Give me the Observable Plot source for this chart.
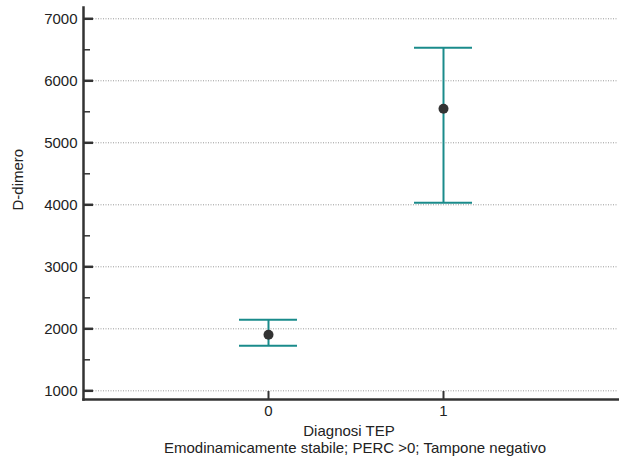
<!DOCTYPE html>
<html>
<head>
<meta charset="utf-8">
<script src="https://cdn.jsdelivr.net/npm/d3@7"></script>
<script src="https://cdn.jsdelivr.net/npm/@observablehq/plot@0.6"></script>
<style>
  html, body { margin: 0; padding: 0; background: #fff; }
  svg { display: block; }
</style>
</head>
<body>
<div id="chart"></div>
<script>
// Data
const categories = ["0", "1"];
const means = [1905, 5548];
const lower = [1726, 4032];
const upper = [2145, 6532];

const yMajor = [1000, 2000, 3000, 4000, 5000, 6000, 7000];
const yMinor = [1500, 2500, 3500, 4500, 5500, 6500];
const yDomain = [860, 7182];

const yLabel = "D-dimero";
const xLabel = "Diagnosi TEP";
const subLabel = "Emodinamicamente stabile; PERC >0; Tampone negativo";

const data = categories.map((c, i) => ({cat: c, mean: means[i], lo: lower[i], hi: upper[i]}));

const teal = "#1a8b8b";
const axisColor = "#333";
const font = "Liberation Sans, Arial, sans-serif";

const plot = Plot.plot({
  width: 619,
  height: 466,
  marginTop: 7,
  marginBottom: 67,
  marginLeft: 83,
  marginRight: 1,
  style: {fontFamily: font, fontSize: "15px", color: "#222", background: "#fff"},
  x: {type: "band", domain: categories, paddingInner: 0.669, paddingOuter: 0.863, align: 0.517, axis: null},
  y: {domain: yDomain, axis: null},
  marks: [
    Plot.ruleY(yMajor, {stroke: "#999", strokeDasharray: "1,1.5", strokeWidth: 1}),
    Plot.axisY({ticks: yMinor, tickSize: -7, tickFormat: () => "", stroke: axisColor, strokeWidth: 1.5}),
    Plot.axisY({ticks: yMajor, tickSize: -10, tickPadding: 16, tickFormat: d => String(d), stroke: axisColor, strokeWidth: 2.5, fill: "#222", label: null}),
    Plot.axisX({tickSize: -8, tickPadding: 14, stroke: axisColor, strokeWidth: 2, fill: "#222", label: null}),
    Plot.frame({anchor: "left", stroke: axisColor, strokeWidth: 2.5}),
    Plot.frame({anchor: "bottom", stroke: axisColor, strokeWidth: 2.5}),
    Plot.ruleX(data, {x: "cat", y1: "lo", y2: "hi", stroke: teal, strokeWidth: 2}),
    Plot.tickY(data, {x: "cat", y: "lo", stroke: teal, strokeWidth: 2}),
    Plot.tickY(data, {x: "cat", y: "hi", stroke: teal, strokeWidth: 2}),
    Plot.dot(data, {x: "cat", y: "mean", r: 5, fill: "#333", stroke: null}),
    Plot.text([xLabel], {frameAnchor: "bottom", dy: 36, dx: -2, fill: "#222", fontSize: 15}),
    Plot.text([subLabel], {frameAnchor: "bottom", dy: 53, dx: 4, fill: "#222", fontSize: 15}),
    Plot.text([yLabel], {frameAnchor: "left", dx: -65, dy: 7, rotate: -90, fill: "#222", fontSize: 15})
  ]
});

document.getElementById("chart").appendChild(plot);
</script>
</body>
</html>
